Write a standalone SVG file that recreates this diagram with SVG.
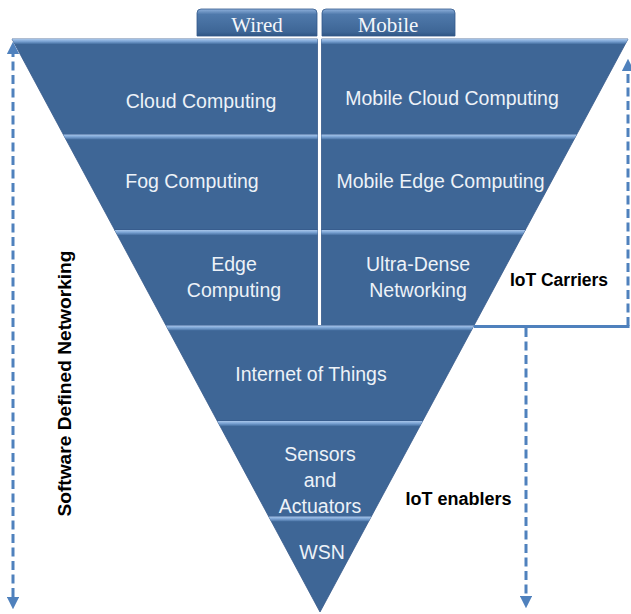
<svg xmlns="http://www.w3.org/2000/svg" width="631" height="614" viewBox="0 0 631 614">
  <defs>
    <linearGradient id="hl" x1="0" y1="0" x2="0" y2="1">
      <stop offset="0" stop-color="#a8c6ea"/>
      <stop offset="0.45" stop-color="#7ea6d6"/>
      <stop offset="1" stop-color="#4670a2"/>
    </linearGradient>
    <linearGradient id="tab" x1="0" y1="0" x2="0" y2="1">
      <stop offset="0" stop-color="#8fb1dc"/>
      <stop offset="0.2" stop-color="#4f79ab"/>
      <stop offset="0.85" stop-color="#3e6696"/>
      <stop offset="1" stop-color="#2f5583"/>
    </linearGradient>
    <marker id="ah" viewBox="0 0 10 10" refX="5" refY="5" markerWidth="4.2" markerHeight="4.2" markerUnits="strokeWidth" orient="auto-start-reverse">
      <path d="M0,0 L10,5 L0,10 Z" fill="#4f81bd"/>
    </marker>
  </defs>
  <style>
    .band { fill: #3e6696; stroke: #36598a; stroke-width: 0.8; }
    .hl { fill: url(#hl); }
    .tab { fill: url(#tab); stroke: #34598a; stroke-width: 0.8; }
    .lbl { font-family: "Liberation Sans", Arial, sans-serif; font-size: 19.5px; fill: #edf2f8; text-anchor: middle; }
    .tabl { font-family: "Liberation Serif", "Times New Roman", serif; font-size: 21px; fill: #f4f7fb; text-anchor: middle; }
    .side { font-family: "Liberation Sans", Arial, sans-serif; font-weight: bold; fill: #000; text-anchor: middle; }
    .dash { fill: none; stroke: #4f81bd; stroke-width: 3; stroke-dasharray: 9 4.5; }
    .solid { fill: none; stroke: #4f81bd; stroke-width: 3; }
  </style>

  <!-- tabs -->
  <g id="tab-wired">
    <path class="tab" d="M197,36 L197,13 Q197,9 201,9 L313,9 Q317,9 317,13 L317,36 Z"/>
    <text class="tabl" x="257" y="32">Wired</text>
  </g>
  <g id="tab-mobile">
    <path class="tab" d="M322,36 L322,13 Q322,9 326,9 L451,9 Q455,9 455,13 L455,36 Z"/>
    <text class="tabl" x="388" y="32">Mobile</text>
  </g>

  <!-- row 1 -->
  <g id="cloud-computing">
    <polygon class="band" points="12,39 317.5,39 317.5,134.5 63.3,134.5"/>
    <polygon class="hl" points="12,39 317.5,39 317.5,44 14.7,44"/>
    <text class="lbl" x="201" y="108">Cloud Computing</text>
  </g>
  <g id="mobile-cloud-computing">
    <polygon class="band" points="321.5,39 628,39 576.7,134.5 321.5,134.5"/>
    <polygon class="hl" points="321.5,39 628,39 625.3,44 321.5,44"/>
    <text class="lbl" x="452" y="105">Mobile Cloud Computing</text>
  </g>

  <!-- row 2 -->
  <g id="fog-computing">
    <polygon class="band" points="63.3,134.5 317.5,134.5 317.5,230 114.7,230"/>
    <polygon class="hl" points="63.3,134.5 317.5,134.5 317.5,139.5 66,139.5"/>
    <text class="lbl" x="192" y="188">Fog Computing</text>
  </g>
  <g id="mobile-edge-computing">
    <polygon class="band" points="321.5,134.5 576.7,134.5 525.3,230 321.5,230"/>
    <polygon class="hl" points="321.5,134.5 576.7,134.5 574,139.5 321.5,139.5"/>
    <text class="lbl" x="440.5" y="188">Mobile Edge Computing</text>
  </g>

  <!-- row 3 -->
  <g id="edge-computing">
    <polygon class="band" points="114.7,230 317.5,230 317.5,325.5 166,325.5"/>
    <polygon class="hl" points="114.7,230 317.5,230 317.5,235 117.4,235"/>
    <text class="lbl" x="234" y="271">Edge</text>
    <text class="lbl" x="234" y="297">Computing</text>
  </g>
  <g id="ultra-dense-networking">
    <polygon class="band" points="321.5,230 525.3,230 474,325.5 321.5,325.5"/>
    <polygon class="hl" points="321.5,230 525.3,230 522.6,235 321.5,235"/>
    <text class="lbl" x="418" y="271">Ultra-Dense</text>
    <text class="lbl" x="418" y="297">Networking</text>
  </g>

  <!-- row 4 -->
  <g id="internet-of-things">
    <polygon class="band" points="166,325.5 474,325.5 422.7,421 217.3,421"/>
    <polygon class="hl" points="166,325.5 474,325.5 471.3,330.5 168.7,330.5"/>
    <text class="lbl" x="311" y="381">Internet of Things</text>
  </g>

  <!-- row 5 -->
  <g id="sensors-actuators">
    <polygon class="band" points="217.3,421 422.7,421 371.3,516.5 268.7,516.5"/>
    <polygon class="hl" points="217.3,421 422.7,421 420,426 220,426"/>
    <text class="lbl" x="320" y="461">Sensors</text>
    <text class="lbl" x="320" y="487">and</text>
    <text class="lbl" x="320" y="513">Actuators</text>
  </g>

  <!-- row 6 -->
  <g id="wsn">
    <polygon class="band" points="268.7,516.5 371.3,516.5 320,612"/>
    <polygon class="hl" points="268.7,516.5 371.3,516.5 368.6,521.5 271.4,521.5"/>
    <text class="lbl" x="322" y="559">WSN</text>
  </g>

  <!-- connectors -->
  <g id="connectors">
    <line class="dash" x1="13" y1="48" x2="13" y2="603" marker-start="url(#ah)" marker-end="url(#ah)"/>
    <line class="solid" x1="474" y1="326.5" x2="629.5" y2="326.5"/>
    <line class="dash" x1="628" y1="326" x2="628" y2="65" marker-end="url(#ah)"/>
    <line class="dash" x1="526" y1="328" x2="526" y2="602" marker-end="url(#ah)"/>
  </g>

  <!-- side labels -->
  <g id="label-sdn">
    <text class="side" font-size="18.5" transform="translate(71,383.5) rotate(-90)" textLength="266" lengthAdjust="spacingAndGlyphs">Software Defined Networking</text>
  </g>
  <g id="label-iot-carriers">
    <text class="side" font-size="17.5" x="559" y="286">IoT Carriers</text>
  </g>
  <g id="label-iot-enablers">
    <text class="side" font-size="18" x="458.5" y="505">IoT enablers</text>
  </g>
</svg>
